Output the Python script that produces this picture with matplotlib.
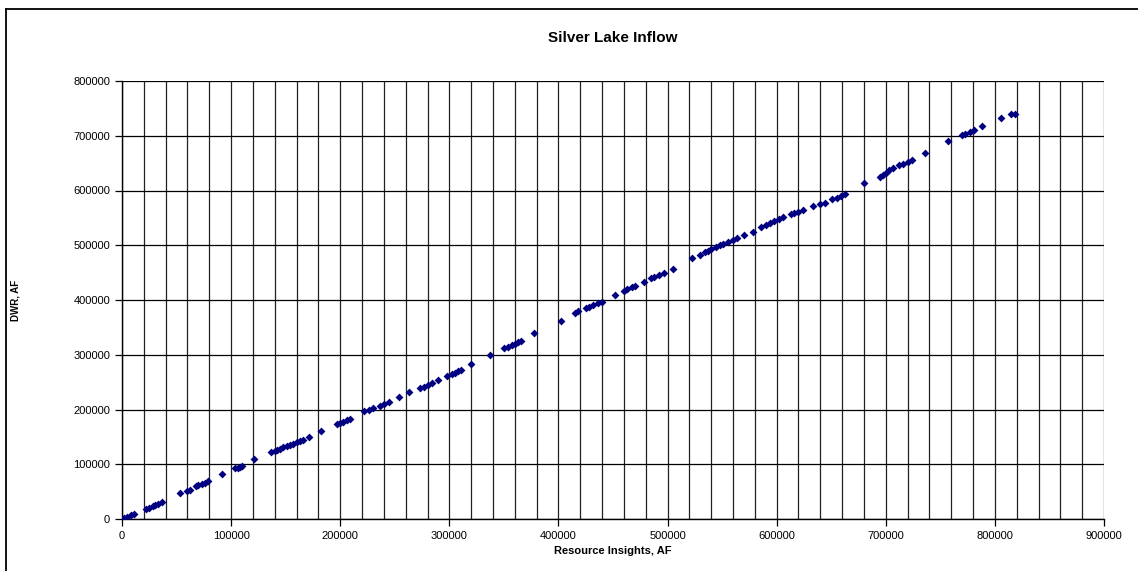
import matplotlib.pyplot as plt
from matplotlib.lines import Line2D
from matplotlib.ticker import MultipleLocator

# Resource Insights vs DWR, thousands of acre-feet
ri = [0, 2, 5, 8, 11, 22, 25, 28, 30, 33, 37, 53, 60, 62, 68, 70, 73, 76, 79,
      92, 104, 106, 108, 110, 121, 137, 140, 142, 145, 148, 151, 154, 157, 160,
      163, 166, 171, 182, 197, 200, 203, 206, 209, 222, 226, 230, 236, 240, 245,
      254, 263, 273, 277, 280, 284, 290, 298, 302, 305, 308, 311, 320, 337, 350,
      354, 357, 360, 363, 366, 378, 402, 415, 418, 425, 428, 432, 436, 440, 452,
      460, 463, 467, 470, 478, 485, 488, 492, 497, 505, 522, 530, 534, 537, 540,
      544, 548, 551, 555, 560, 564, 570, 578, 586, 590, 594, 598, 602, 606, 613,
      616, 620, 624, 633, 640, 644, 651, 655, 659, 663, 680, 695, 697, 700, 703,
      707, 712, 716, 720, 724, 736, 757, 770, 773, 777, 781, 788, 806, 815, 818]
dwr = [0, 1, 4, 7, 9, 19, 21, 24, 25, 28, 31, 47, 52, 53, 60, 62, 64, 66, 69,
       82, 93, 94, 95, 97, 109, 123, 124, 126, 128, 131, 134, 135, 137, 140,
       142, 145, 149, 161, 173, 175, 177, 180, 182, 197, 199, 202, 207, 210, 214,
       223, 232, 239, 242, 245, 248, 254, 261, 264, 267, 270, 273, 283, 300, 312,
       315, 318, 320, 323, 326, 340, 362, 376, 380, 385, 387, 390, 394, 397, 410,
       417, 420, 423, 426, 433, 440, 442, 445, 449, 457, 476, 483, 487, 490, 493,
       496, 500, 503, 506, 510, 514, 518, 525, 533, 537, 540, 544, 548, 552, 557,
       559, 561, 564, 571, 575, 578, 585, 587, 590, 594, 614, 624, 628, 632, 637,
       642, 646, 649, 652, 656, 669, 690, 702, 704, 707, 711, 718, 733, 739, 740]

x = [v * 1000 for v in ri]
y = [v * 1000 for v in dwr]

plt.rcParams['font.family'] = ['Liberation Sans', 'DejaVu Sans']

fig = plt.figure(figsize=(11.38, 5.71), dpi=100)
ax = fig.add_axes([122 / 1138, 52 / 571, 982 / 1138, 438 / 571])

ax.scatter(x, y, marker='D', s=16, color='#000080', linewidths=0, zorder=3)

ax.set_xlim(0, 900000)
ax.set_ylim(0, 800000)
ax.xaxis.set_major_locator(MultipleLocator(100000))
ax.xaxis.set_minor_locator(MultipleLocator(20000))
ax.yaxis.set_major_locator(MultipleLocator(100000))
ax.grid(True, which='both', axis='x', color='#222222', linewidth=0.9)
ax.grid(True, which='major', axis='y', color='black', linewidth=0.9)
ax.set_axisbelow(True)
ax.tick_params(axis='both', which='major', labelsize=8, length=5, width=0.9, color='black')
ax.tick_params(axis='x', which='minor', length=0)
for side in ['top', 'right']:
    ax.spines[side].set_visible(False)
for side in ['left', 'bottom']:
    ax.spines[side].set_linewidth(1.0)

ax.set_title('Silver Lake Inflow', fontsize=11, fontweight='bold', pad=28)
ax.set_xlabel('Resource Insights, AF', fontsize=8, fontweight='bold', labelpad=4)
ax.set_ylabel('DWR, AF', fontsize=7, fontweight='bold', labelpad=38)

# outer frame: only the left and top edges fall inside the picture
fx, fy = 5.5 / 1138, 1 - 8.5 / 571
fig.add_artist(Line2D([fx, fx], [0, fy], transform=fig.transFigure, color='black', linewidth=1.3))
fig.add_artist(Line2D([fx, 1], [fy, fy], transform=fig.transFigure, color='black', linewidth=1.3))

plt.savefig('out.png', dpi=100)
